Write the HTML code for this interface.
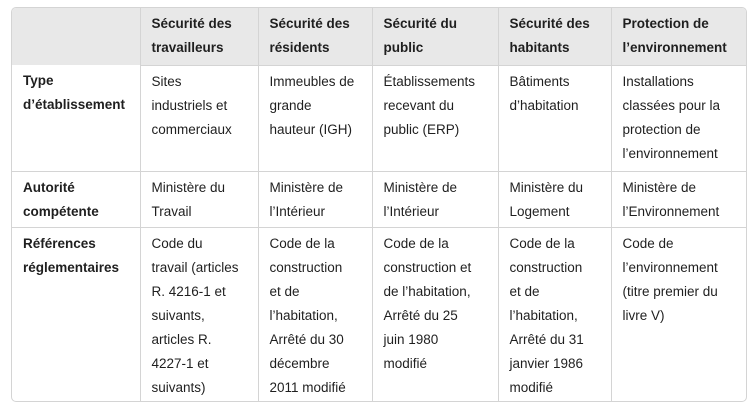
<!DOCTYPE html>
<html><head><meta charset="utf-8"><style>
body{margin:0;background:#fff;font-family:"Liberation Sans",sans-serif;font-size:13.5px;color:#1f1f1f}
.t{position:absolute;left:11px;top:7px;width:734px;height:393px;border:1px solid #d4d4d4;border-radius:5px;overflow:hidden}
table{border-collapse:collapse;table-layout:fixed;width:734px}
td,th{vertical-align:top;text-align:left;padding:4px 0 0 11px;line-height:24px;border-left:1px solid #d4d4d4;border-top:1px solid #d4d4d4}
tr:first-child th{border-top:none}
td:first-child,th:first-child{border-left:none}
thead th{background:#e8e8e8;font-weight:bold}
tbody th{font-weight:bold}
</style></head><body>
<div class="t"><table>
<colgroup><col style="width:128px"><col style="width:118px"><col style="width:114px"><col style="width:126px"><col style="width:113px"><col style="width:135px"></colgroup>
<thead><tr style="height:57px"><th></th><th>Sécurité des<br>travailleurs</th><th>Sécurité des<br>résidents</th><th>Sécurité du<br>public</th><th>Sécurité des<br>habitants</th><th>Protection de<br>l’environnement</th></tr></thead>
<tbody>
<tr style="height:106px"><th>Type<br>d’établissement</th><td>Sites<br>industriels et<br>commerciaux</td><td>Immeubles de<br>grande<br>hauteur (IGH)</td><td>Établissements<br>recevant du<br>public (ERP)</td><td>Bâtiments<br>d’habitation</td><td>Installations<br>classées pour la<br>protection de<br>l’environnement</td></tr>
<tr style="height:56px"><th>Autorité<br>compétente</th><td>Ministère du<br>Travail</td><td>Ministère de<br>l’Intérieur</td><td>Ministère de<br>l’Intérieur</td><td>Ministère du<br>Logement</td><td>Ministère de<br>l’Environnement</td></tr>
<tr style="height:175px"><th>Références<br>réglementaires</th><td>Code du<br>travail (articles<br>R. 4216-1 et<br>suivants,<br>articles R.<br>4227-1 et<br>suivants)</td><td>Code de la<br>construction<br>et de<br>l’habitation,<br>Arrêté du 30<br>décembre<br>2011 modifié</td><td>Code de la<br>construction et<br>de l’habitation,<br>Arrêté du 25<br>juin 1980<br>modifié</td><td>Code de la<br>construction<br>et de<br>l’habitation,<br>Arrêté du 31<br>janvier 1986<br>modifié</td><td>Code de<br>l’environnement<br>(titre premier du<br>livre V)</td></tr>
</tbody></table></div>
</body></html>
